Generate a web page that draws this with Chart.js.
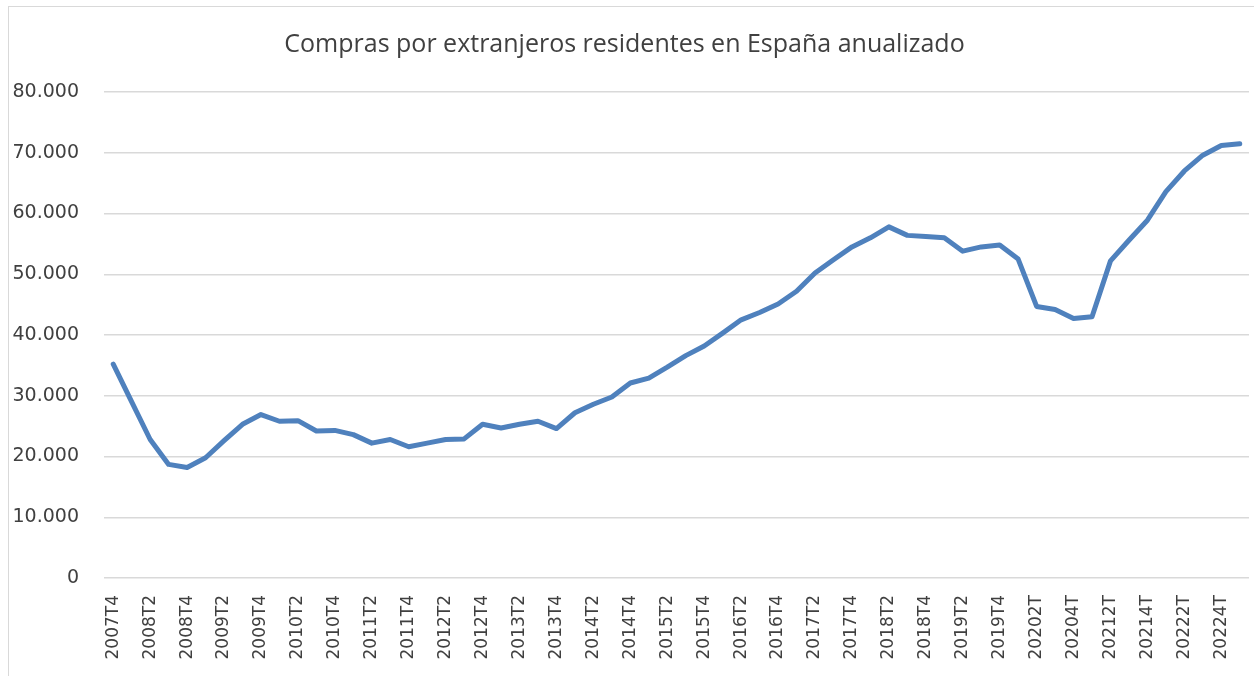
<!DOCTYPE html>
<html lang="es">
<head>
<meta charset="utf-8">
<title>Compras por extranjeros residentes en España anualizado</title>
<script src="https://cdn.jsdelivr.net/npm/chart.js@4.4.1/dist/chart.umd.min.js"></script>
<style>
  html, body { margin: 0; padding: 0; background: #ffffff; overflow: hidden; }
  #frame {
    position: absolute; left: 8px; top: 6px; width: 1260px; height: 700px;
    border: 1px solid #d9d9d9; box-sizing: border-box;
  }
  #wrap { position: absolute; left: 0; top: 0; width: 1254px; height: 676px; }
</style>
</head>
<body>
<div id="frame"></div>
<div id="wrap"><canvas id="chart"></canvas></div>
<script>
// Periodos trimestrales (solo se muestra una de cada dos etiquetas)
const periodos = [
  "2007T4",
  "2008T1", "2008T2", "2008T3", "2008T4",
  "2009T1", "2009T2", "2009T3", "2009T4",
  "2010T1", "2010T2", "2010T3", "2010T4",
  "2011T1", "2011T2", "2011T3", "2011T4",
  "2012T1", "2012T2", "2012T3", "2012T4",
  "2013T1", "2013T2", "2013T3", "2013T4",
  "2014T1", "2014T2", "2014T3", "2014T4",
  "2015T1", "2015T2", "2015T3", "2015T4",
  "2016T1", "2016T2", "2016T3", "2016T4",
  "2017T1", "2017T2", "2017T3", "2017T4",
  "2018T1", "2018T2", "2018T3", "2018T4",
  "2019T1", "2019T2", "2019T3", "2019T4",
  "20201T", "20202T", "20203T", "20204T",
  "20211T", "20212T", "20213T", "20214T",
  "20221T", "20222T", "20223T", "20224T",
  "20231T"
];

// Compras anualizadas
const compras = [
  35200,
  29000, 22800, 18700, 18200,
  19800, 22600, 25300, 26900,
  25800, 25900, 24200, 24300,
  23600, 22200, 22800, 21600,
  22200, 22800, 22900, 25300,
  24700, 25300, 25800, 24600,
  27200, 28600, 29800, 32100,
  32900, 34700, 36600, 38200,
  40300, 42500, 43700, 45100,
  47200, 50200, 52400, 54500,
  56000, 57800, 56400, 56200,
  56000, 53800, 54500, 54800,
  52500, 44700, 44200, 42700,
  43000, 52200, 55600, 58900,
  63600, 67000, 69600, 71200,
  71500
];

const yTicks = [0, 10000, 20000, 30000, 40000, 50000, 60000, 70000, 80000];

const colors = {
  line: "#4f81bd",
  grid: "#d9d9d9",
  text: "#404040",
  title: "#404040",
};

const fmtMiles = (v) => (v === 0 ? "0" : v.toLocaleString("de-DE"));

new Chart(document.getElementById("chart"), {
  type: "line",
  data: {
    labels: periodos,
    datasets: [
      {
        label: "Compras por extranjeros residentes",
        data: compras,
        borderColor: colors.line,
        backgroundColor: colors.line,
        borderWidth: 5,
        pointRadius: 0,
        tension: 0,
        borderCapStyle: "round",
        borderJoinStyle: "round",
      },
    ],
  },
  options: {
    responsive: true,
    maintainAspectRatio: false,
    animation: false,
    layout: { padding: { left: 0, right: 5, top: 0, bottom: 0 } },
    plugins: {
      legend: { display: false },
      tooltip: { enabled: false },
      title: {
        display: true,
        text: "Compras por extranjeros residentes en España anualizado",
        color: colors.title,
        font: { family: "'Open Sans', sans-serif", size: 25, weight: "normal" },
        padding: { top: 30, bottom: 32 },
      },
    },
    scales: {
      x: {
        offset: true,
        grid: { display: false, drawTicks: false },
        border: { display: false },
        afterFit: (scale) => {
          scale.height = 98;
          scale.paddingLeft = 0;
          scale.paddingRight = 0;
        },
        ticks: {
          autoSkip: false,
          maxRotation: 90,
          minRotation: 90,
          padding: 17,
          color: colors.text,
          font: { family: "'DejaVu Sans', sans-serif", size: 17 },
          callback: function (val, idx) {
            return idx % 2 === 0 ? this.getLabelForValue(val) : "";
          },
        },
      },
      y: {
        min: 0,
        max: 80000,
        afterFit: (scale) => { scale.width = 104; },
        afterBuildTicks: (scale) => {
          scale.ticks = yTicks.map((v) => ({ value: v }));
        },
        grid: { color: colors.grid, lineWidth: 1.5, drawTicks: false },
        border: { display: false },
        ticks: {
          padding: 25,
          color: colors.text,
          font: { family: "'DejaVu Sans', sans-serif", size: 19 },
          callback: (v) => fmtMiles(v),
        },
      },
    },
  },
});
</script>
</body>
</html>
